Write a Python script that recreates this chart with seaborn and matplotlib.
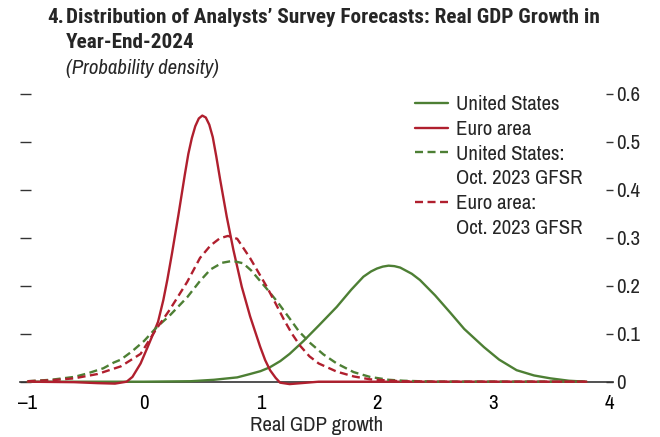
import matplotlib
matplotlib.use("Agg")
import matplotlib.pyplot as plt
import seaborn as sns
import pandas as pd
from matplotlib.lines import Line2D

# ---------------- data ----------------
us_x = [-1.0, 0.0, 0.4, 0.6, 0.8, 0.91, 1.0, 1.08, 1.17, 1.25, 1.37, 1.5, 1.655, 1.78, 1.884,
        1.95, 2.0, 2.05, 2.1, 2.15, 2.2, 2.3, 2.37, 2.5, 2.63, 2.75, 2.92, 3.05, 3.2, 3.35, 3.49, 3.65, 3.8]
us_y = [0.0, 0.0, 0.001, 0.004, 0.009, 0.016, 0.022, 0.030, 0.043, 0.058, 0.085, 0.117, 0.156, 0.192, 0.219,
        0.230, 0.236, 0.240, 0.242, 0.241, 0.238, 0.225, 0.212, 0.180, 0.144, 0.110, 0.072, 0.046, 0.024, 0.013, 0.007, 0.002, 0.0]

ea_x = [-1.0, -0.6, -0.4, -0.25, -0.15, -0.1, -0.03, 0.03, 0.08, 0.12, 0.165, 0.2, 0.24, 0.295,
        0.35, 0.38, 0.41, 0.44, 0.47, 0.50, 0.53, 0.56, 0.59, 0.62, 0.653, 0.71, 0.767,
        0.839, 0.911, 0.997, 1.04, 1.082, 1.13, 1.168, 1.25, 1.35, 1.5, 3.8]
ea_y = [0.0, -0.001, -0.003, -0.004, 0.0, 0.010, 0.038, 0.072, 0.101, 0.125, 0.170, 0.213, 0.268, 0.348,
        0.432, 0.475, 0.508, 0.533, 0.549, 0.555, 0.551, 0.536, 0.510, 0.470, 0.422, 0.344, 0.275,
        0.198, 0.136, 0.073, 0.045, 0.024, 0.008, -0.002, -0.005, -0.003, 0.0, 0.0]

us_oct_x = [-1.0, -0.8, -0.6, -0.49, -0.35, -0.26, -0.2, -0.1, 0.0, 0.11, 0.22, 0.37, 0.48, 0.57,
            0.67, 0.76, 0.85, 0.92, 1.06, 1.15, 1.25, 1.33, 1.43, 1.54, 1.655, 1.8, 1.94, 2.1, 2.23, 2.5, 3.8]
us_oct_y = [0.001, 0.004, 0.010, 0.017, 0.028, 0.040, 0.046, 0.064, 0.085, 0.114, 0.138, 0.176, 0.210, 0.234,
            0.248, 0.252, 0.247, 0.232, 0.192, 0.165, 0.132, 0.105, 0.080, 0.057, 0.038, 0.020, 0.010, 0.004, 0.002, 0.0, 0.0]

ea_oct_x = [-1.0, -0.8, -0.6, -0.4, -0.2, -0.03, 0.1, 0.22, 0.37, 0.48, 0.57, 0.65, 0.72, 0.80, 0.91,
            1.054, 1.13, 1.20, 1.27, 1.34, 1.42, 1.50, 1.655, 1.8, 1.94, 2.2, 2.5, 3.8]
ea_oct_y = [0.001, 0.003, 0.007, 0.016, 0.032, 0.058, 0.108, 0.150, 0.208, 0.258, 0.284, 0.299, 0.304, 0.298, 0.258,
            0.198, 0.163, 0.130, 0.100, 0.075, 0.053, 0.038, 0.021, 0.011, 0.005, 0.001, 0.0, 0.0]

series_labels = ["United States", "Euro area", "United States:", "Euro area:"]
gfsr_line = "Oct. 2023 GFSR"
x_ticks = [-1, 0, 1, 2, 3, 4]
y_ticks = [0, 0.1, 0.2, 0.3, 0.4, 0.5, 0.6]
y_tick_labels = ["0", "0.1", "0.2", "0.3", "0.4", "0.5", "0.6"]
title_num = "4."
title_lines = "Distribution of Analysts\u2019 Survey Forecasts: Real GDP Growth in\nYear-End-2024"
subtitle = "(Probability density)"
x_label = "Real GDP growth"

# ---------------- style ----------------
sns.set_theme(style="white")
FONT = "Archivo Narrow"
TITLE_FONT = ["Roboto Condensed", "Archivo Narrow", "DejaVu Sans"]
plt.rcParams["font.family"] = [FONT, "DejaVu Sans"]
plt.rcParams["axes.unicode_minus"] = True

GREEN = "#4D7F34"
RED = "#B01F2E"
DARK = "#333333"
FS = 15
LW = 1.7
DASH = (0, (3.4, 1.9))

W, H = 660, 437
fig = plt.figure(figsize=(W / 100, H / 100), dpi=100)

ax_left_px, ax_right_px = 20, 613
ax_bottom_px = 381.7
ytop = 0.62
ppu_y = 479.5
ax_top_px = ax_bottom_px - ytop * ppu_y
ax = fig.add_axes([ax_left_px / W, 1 - ax_bottom_px / H,
                   (ax_right_px - ax_left_px) / W, (ax_bottom_px - ax_top_px) / H])

df = pd.concat([
    pd.DataFrame({"x": us_x, "y": us_y, "s": series_labels[0]}),
    pd.DataFrame({"x": ea_x, "y": ea_y, "s": series_labels[1]}),
    pd.DataFrame({"x": us_oct_x, "y": us_oct_y, "s": series_labels[2]}),
    pd.DataFrame({"x": ea_oct_x, "y": ea_oct_y, "s": series_labels[3]}),
])
styles = {
    series_labels[0]: (GREEN, "-"),
    series_labels[1]: (RED, "-"),
    series_labels[2]: (GREEN, DASH),
    series_labels[3]: (RED, DASH),
}
for name in series_labels:
    c, ls = styles[name]
    sns.lineplot(data=df[df["s"] == name], x="x", y="y", ax=ax, color=c,
                 linewidth=LW, linestyle=ls, clip_on=False, legend=False, zorder=3)

ax.set_xlim(-1.066, 4.028)
ax.set_ylim(0, ytop)
for sp in ["top", "right", "left"]:
    ax.spines[sp].set_visible(False)
ax.spines["bottom"].set_color(DARK)
ax.spines["bottom"].set_linewidth(1.2)
ax.spines["bottom"].set_zorder(2)

ax.set_xticks(x_ticks)
ax.set_xticklabels([f"{t}".replace("-", "\u2013") for t in x_ticks], fontsize=FS)
ax.tick_params(axis="x", direction="in", length=6, width=1.0, color=DARK, pad=9,
               labelcolor="black")
ax.set_yticks(y_ticks)
ax.tick_params(axis="y", left=True, right=False, labelleft=False, direction="in",
               length=8, width=1.0, color=DARK)
ax.set_xlabel(x_label, fontsize=FS, labelpad=2)
ax.set_ylabel("")

ax2 = ax.twinx()
ax2.set_ylim(0, ytop)
ax2.set_yticks(y_ticks)
ax2.set_yticklabels(y_tick_labels, fontsize=FS)
ax2.tick_params(axis="y", right=True, direction="in", length=5, width=1.0, color=DARK, pad=2)
for sp in ["top", "right", "left", "bottom"]:
    ax2.spines[sp].set_visible(False)
ax2.grid(False)
ax.grid(False)

# legend: six rows, continuation lines with blank handles
blank = Line2D([], [], linestyle="none")
handles = [Line2D([], [], color=GREEN, lw=LW),
           Line2D([], [], color=RED, lw=LW),
           Line2D([], [], color=GREEN, lw=LW, linestyle=DASH),
           blank,
           Line2D([], [], color=RED, lw=LW, linestyle=DASH),
           blank]
labels = [series_labels[0], series_labels[1], series_labels[2], gfsr_line,
          series_labels[3], gfsr_line]
leg = ax.legend(handles, labels, loc="upper left",
                bbox_to_anchor=(415 / W, 1 - 95 / H), bbox_transform=fig.transFigure,
                frameon=False, fontsize=FS, handlelength=1.6, handletextpad=0.38,
                labelspacing=0.28, borderpad=0, borderaxespad=0)

# titles
fig.text(47 / W, 1 - 8 / H, title_num, fontsize=15.3, fontweight="bold", va="top", ha="left",
         family=TITLE_FONT)
fig.text(66 / W, 1 - 8 / H, title_lines, fontsize=15.3, fontweight="bold", va="top", ha="left",
         linespacing=1.42, family=TITLE_FONT)
fig.text(66 / W, 1 - 59 / H, subtitle, fontsize=FS, fontstyle="italic", va="top", ha="left")

fig.savefig("out.png", dpi=100)
